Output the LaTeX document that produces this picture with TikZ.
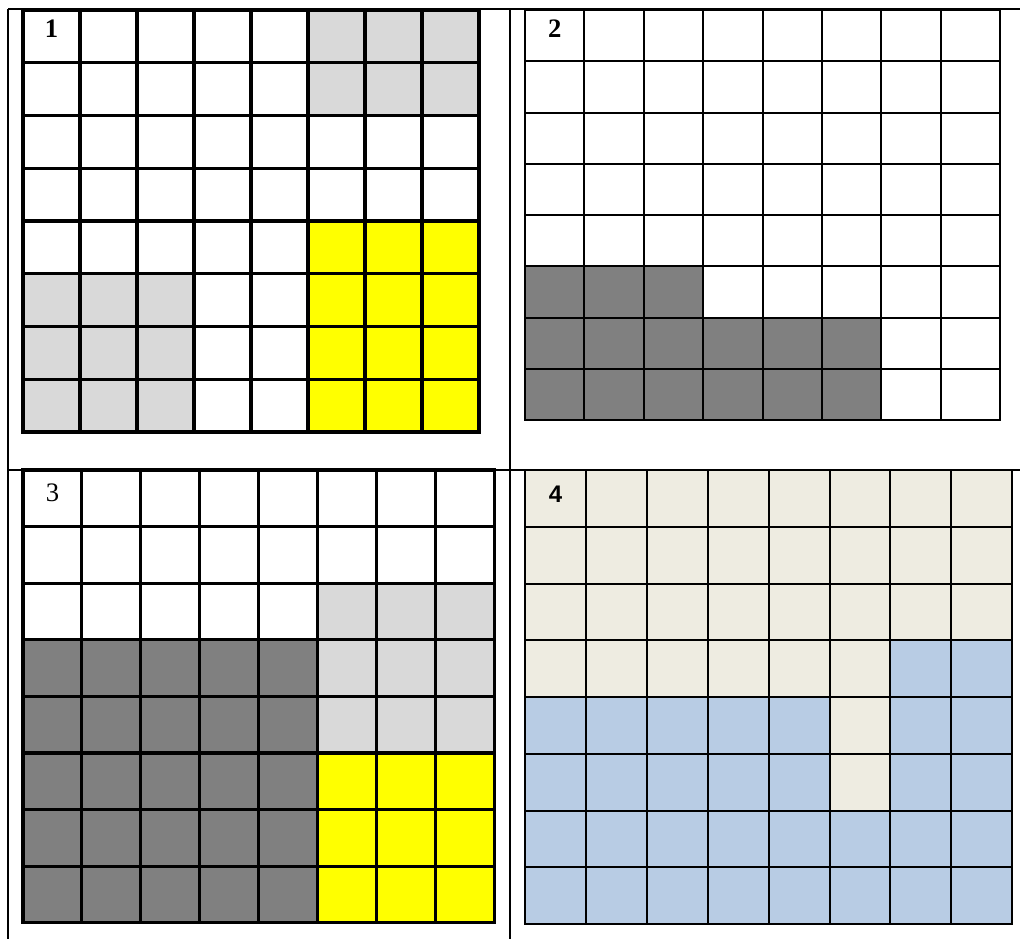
\documentclass[tikz,border=0pt]{standalone}
\usepackage{fontspec}
\setmainfont{Liberation Serif}
\newfontfamily\labsans{Liberation Sans}
\definecolor{lgray}{HTML}{D9D9D9}
\definecolor{dgray}{HTML}{808080}
\definecolor{yel}{HTML}{FFFF00}
\definecolor{beige}{HTML}{EEECE1}
\definecolor{lblue}{HTML}{B8CCE4}
\tikzset{
  tableline/.style={line width=1.2pt, black},
  thickgrid/.style={line width=2.3pt, black},
  thingrid/.style={line width=1.5pt, black},
  lab/.style={font=\fontsize{20}{22}\selectfont\bfseries, inner sep=0pt},
}
\newcommand\gridlines[1]{%
  \foreach \k in {0,...,8} {
    \draw[#1] (\k,0) -- (\k,8);
    \draw[#1] (0,\k) -- (8,\k);
  }
  \draw[#1] (0,0) rectangle (8,8);
}
\begin{document}
\begin{tikzpicture}[x=0.75pt,y=-0.75pt]
\useasboundingbox (0,0) rectangle (1020,939);
\fill[white] (0,0) rectangle (1020,939);
% outer table
\coordinate (tl) at (8,9);
\coordinate (tr) at (1020,9);
\coordinate (ml) at (8,470);
\coordinate (mr) at (1020,470);
\coordinate (bl) at (8,939);
\coordinate (tm) at (510,9);
\coordinate (bm) at (510,939);
\draw[tableline] (tl) -- (tr);
\draw[tableline] (ml) -- (mr);
\draw[tableline] (tl) -- (bl);
\draw[tableline] (tm) -- (bm);
% grid 1
\begin{scope}[shift={(23,10)}, x=57*0.75pt, y=-52.75*0.75pt]
  \fill[lgray] (5,0) rectangle (8,2);
  \fill[yel] (5,4) rectangle (8,8);
  \fill[lgray] (0,5) rectangle (3,8);
  \gridlines{thickgrid}
  \node[lab] (l1) at (0.5,0.36) {1};
\end{scope}
% grid 2
\begin{scope}[shift={(525,10)}, x=59.4*0.75pt, y=-51.25*0.75pt]
  \fill[dgray] (0,5) rectangle (3,6);
  \fill[dgray] (0,6) rectangle (6,8);
  \gridlines{thingrid}
  \node[lab] (l2) at (0.5,0.36) {2};
\end{scope}
% grid 3
\begin{scope}[shift={(23,470)}, x=58.9*0.75pt, y=-56.6*0.75pt]
  \fill[dgray] (0,3) rectangle (5,8);
  \fill[lgray] (5,2) rectangle (8,5);
  \fill[yel] (5,5) rectangle (8,8);
  \gridlines{thickgrid}
  \node[lab, font=\fontsize{20}{22}\selectfont] (l3) at (0.5,0.4) {3};
\end{scope}
% grid 4
\begin{scope}[shift={(525,470)}, x=60.9*0.75pt, y=-56.75*0.75pt]
  \fill[beige] (0,0) rectangle (8,8);
  \fill[lblue] (6,3) rectangle (8,6);
  \fill[lblue] (0,4) rectangle (5,6);
  \fill[lblue] (0,6) rectangle (8,8);
  \gridlines{thingrid}
  \node[lab, font=\fontsize{18}{20}\selectfont\labsans\bfseries] (l4) at (0.5,0.42) {4};
\end{scope}
\end{tikzpicture}
\end{document}
